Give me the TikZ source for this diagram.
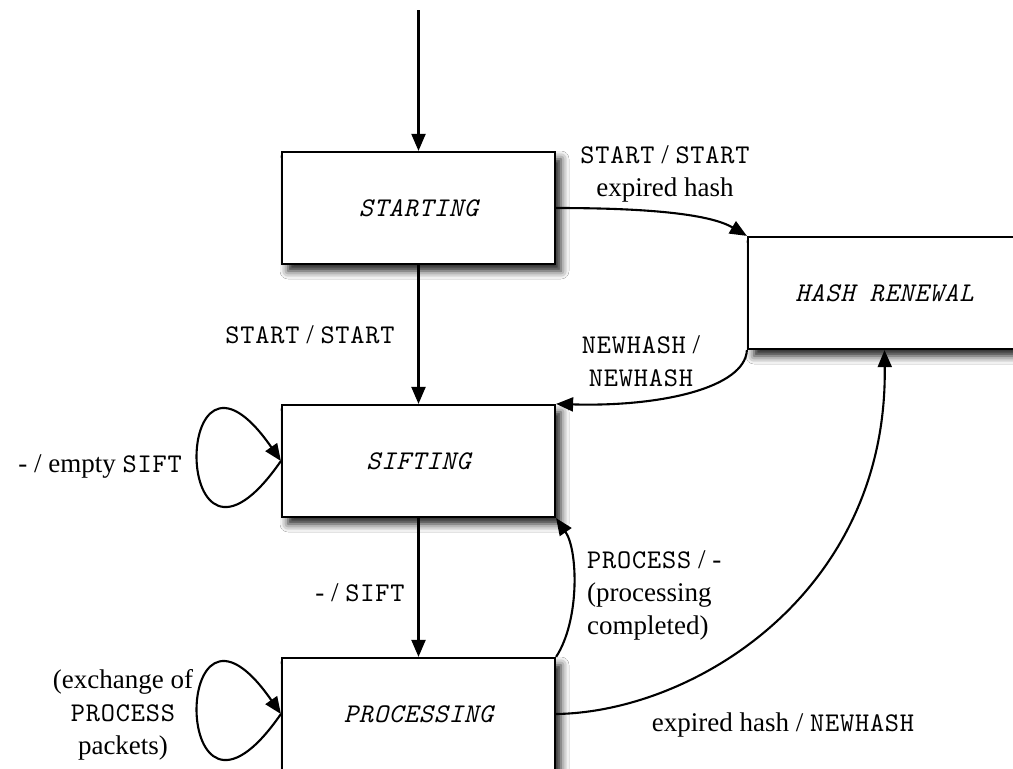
\documentclass[tikz,border=0pt]{standalone}
\usepackage{fontspec}
\setmainfont{Liberation Serif}
\setmonofont{lmmono10-regular.otf}[ItalicFont=lmmono10-italic.otf, LetterSpace=3]
\usetikzlibrary{arrows.meta,shadows.blur}
% typewriter face for message names
\newcommand\monotext[1]{{\fontsize{27}{33}\selectfont\ttfamily#1}}
\begin{document}
\begin{tikzpicture}[x=1pt,y=-1pt,
  every node/.style={font=\fontsize{27}{33}\selectfont},
  state/.style={draw, line width=2.2pt, fill=white, minimum width=273pt,
    minimum height=112pt, inner sep=0pt,
    font=\fontsize{27}{33}\selectfont\ttfamily\itshape,
    blur shadow={shadow xshift=6pt, shadow yshift=-7pt,
      shadow blur radius=8pt, shadow opacity=90}},
  trans/.style={line width=2.1pt, -{Triangle[length=17pt,width=14pt]}},
  lbl/.style={inner sep=0pt, align=center},
  lbll/.style={inner sep=0pt, align=left}]

\fill[white] (0,0) rectangle (1013,769);
\useasboundingbox (0,0) rectangle (1013,769);

% states
\node[state] (start) at (418.5,208) {STARTING};
\node[state] (hash)  at (884.5,293) {HASH RENEWAL};
\node[state] (sift)  at (418.5,461) {SIFTING};
\node[state] (proc)  at (418.5,714) {PROCESSING};

% initial transition
\coordinate (init) at (418.5,10);
\draw[trans] (init) -- (start.north);

% transitions
\draw[trans] (start.south) -- (sift.north);
\draw[trans] (sift.south) -- (proc.north);
\draw[trans] (start.east) .. controls (640,208) and (708,213) .. (hash.north west);
\draw[trans] (hash.south west) .. controls (745,388) and (660,407) .. (sift.north east);
\draw[trans] (proc.north east) .. controls (580,620) and (578,550) .. (sift.south east);
\draw[trans] (proc.east) .. controls (695,712) and (888,592) .. (hash.south);
\draw[trans] (sift.west) .. controls (170,621) and (170,301) .. (sift.west);
\draw[trans] (proc.west) .. controls (170,874) and (170,554) .. (proc.west);

% transition labels
\node[lbl] (l1) at (310,335) {\monotext{START} / \monotext{START}};
\node[lbl] (l2) at (665,174) {\monotext{START} / \monotext{START}\\expired hash};
\node[lbl] (l3) at (641,361) {\monotext{NEWHASH} /\\\monotext{NEWHASH}};
\node[lbl] (l4) at (360,593) {- / \monotext{SIFT}};
\node[lbll, anchor=west] (l5) at (587,595) {\monotext{PROCESS} / -\\(processing\\completed)};
\node[lbl] (l6) at (783,725) {expired hash / \monotext{NEWHASH}};
\node[lbl] (l7) at (100,467) {- / empty \monotext{SIFT}};
\node[lbl] (l8) at (123,715) {(exchange of\\\monotext{PROCESS}\\packets)};
\end{tikzpicture}
\end{document}
